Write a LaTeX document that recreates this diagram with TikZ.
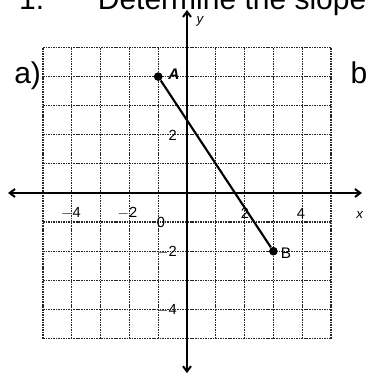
\documentclass[tikz,border=0pt]{standalone}
\usepackage{fontspec}
\setmainfont{Liberation Sans}
\usetikzlibrary{arrows.meta}
\begin{document}
\begin{tikzpicture}[x=21.6pt,y=21.825pt,
  gridline/.style={line width=0.9pt,black!85,dash pattern=on 1.2pt off 0.7pt},
  axis/.style={line width=1.5pt,-{Straight Barb[length=4pt,width=6pt]}},
  segline/.style={line width=1.6pt},
  dot/.style={circle,fill=black,inner sep=0pt,minimum size=6.5pt},
  tick/.style={inner sep=0pt,font=\fontsize{11}{13}\selectfont},
  big/.style={inner sep=0pt,anchor=base west,font=\fontsize{22.5}{26}\selectfont}]
\useasboundingbox (-6.493,-6.220) rectangle (6.250,6.632);
\fill[white] (-6.493,-6.220) rectangle (6.250,6.632);
% grid
\foreach \i in {-5,...,5} {
  \draw[gridline] (\i,-5) -- (\i,5);
  \draw[gridline] (-5,\i) -- (5,\i);
}
% axes
\coordinate (xl) at (-6.215,0);
\coordinate (xr) at (6.076,0);
\coordinate (yt) at (0,6.29);
\coordinate (yb) at (0,-6.19);
\draw[axis] (0,0) -- (xr);
\draw[axis] (0,0) -- (xl);
\draw[axis] (0,0) -- (yt);
\draw[axis] (0,0) -- (yb);
% axis labels
\node[inner sep=0pt,font=\fontsize{10}{12}\selectfont\itshape] (ylab) at (0.45,5.9) {y};
\node[inner sep=0pt,font=\fontsize{10}{12}\selectfont\itshape] (xlab) at (6.0,-0.76) {x};
% tick labels
\node[tick] (t1) at (-4.03,-0.687) {$-$4};
\node[tick] (t2) at (-2.066,-0.687) {$-$2};
\node[tick] (t3) at (-0.903,-0.997) {0};
\node[tick] (t4) at (2.01,-0.687) {2};
\node[tick] (t5) at (3.958,-0.687) {4};
\node[tick,anchor=east] (t6) at (-0.347,1.993) {2};
\node[tick,anchor=east] (t7) at (-0.347,-2.03) {$-$2};
\node[tick,anchor=east] (t8) at (-0.347,-4.02) {$-$4};
% segment
\node[dot] (A) at (-1,4) {};
\node[dot] (B) at (3,-2) {};
\draw[segline] (A) -- (B);
\node[inner sep=0pt,font=\fontsize{11.5}{13}\selectfont\bfseries\itshape] (Alab) at (-0.451,4.089) {A};
\node[inner sep=0pt,font=\fontsize{11.5}{13}\selectfont] (Blab) at (3.44,-2.06) {B};
% texts
\node[big] (num) at (-5.84,6.289) {1.};
\node[big] (title) at (-3.105,6.289) {Determine the slope};
\node[big] (pa) at (-6.007,3.746) {a)};
\node[big] (pb) at (5.670,3.746) {b};
\end{tikzpicture}
\end{document}
